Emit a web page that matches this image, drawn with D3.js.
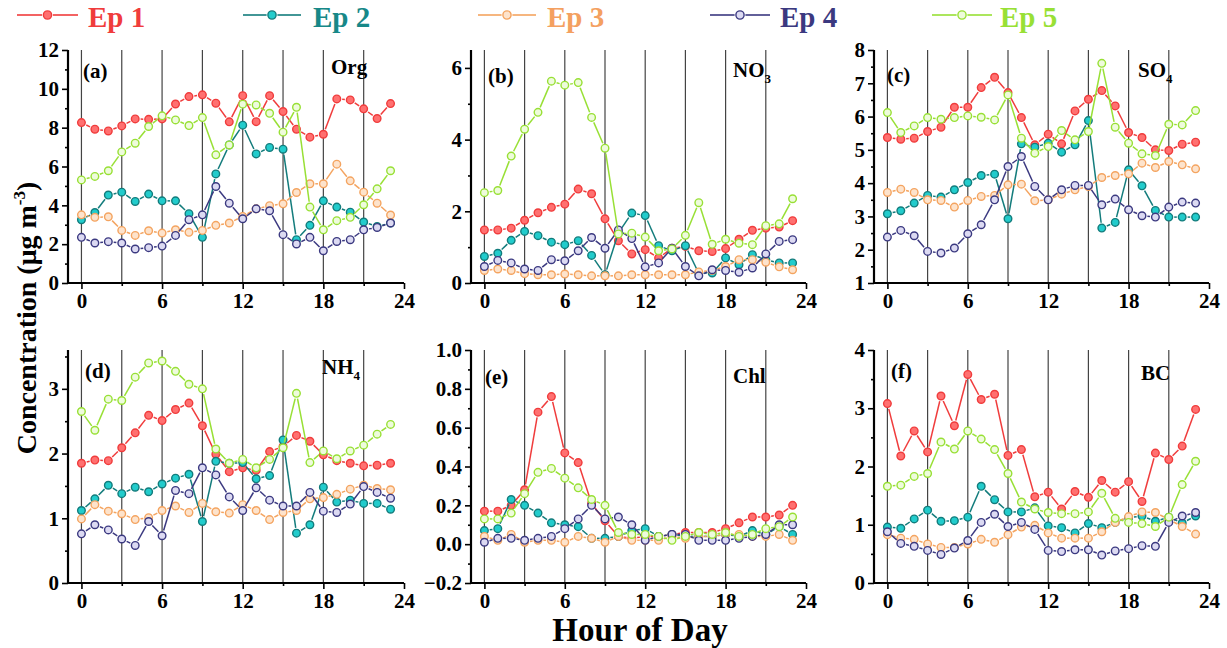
<!DOCTYPE html>
<html>
<head>
<meta charset="utf-8">
<script src="https://cdn.jsdelivr.net/npm/d3@7"></script>
<style>
  body { margin: 0; background: #fff; }
  svg text { font-family: "Liberation Serif", "Times New Roman", serif; font-weight: bold; }
</style>
</head>
<body>
<svg id="chart" width="1227" height="648"></svg>
<script>
// ---------- DATA ----------
const hours = d3.range(24);
const seriesNames = ["Ep 1", "Ep 2", "Ep 3", "Ep 4", "Ep 5"];
const xTickValues = [0, 6, 12, 18, 24];
const gridHours = [0, 3, 6, 9, 12, 15, 18, 21];

const org = [
  [8.26,7.92,7.83,8.09,8.45,8.43,8.45,9.22,9.60,9.69,9.26,8.30,9.65,8.31,9.65,8.83,7.92,7.51,7.66,9.48,9.43,8.97,8.47,9.24],
  [3.26,3.63,4.53,4.68,4.20,4.58,4.23,4.23,3.57,2.35,5.62,7.11,8.13,6.65,6.98,6.89,2.23,2.97,4.23,3.91,3.65,3.14,2.91,3.09],
  [3.51,3.38,3.41,2.71,2.45,2.69,2.57,2.74,2.61,2.71,2.97,3.09,3.43,3.82,3.98,4.08,4.66,5.11,5.11,6.12,5.26,4.68,4.11,3.50],
  [2.35,2.06,2.13,2.06,1.75,1.82,1.90,2.45,3.26,3.51,4.97,4.11,3.31,3.82,3.72,2.49,2.01,2.35,1.66,2.14,2.23,2.74,2.86,3.09],
  [5.31,5.49,5.78,6.75,7.20,8.06,8.61,8.40,8.11,8.52,6.60,7.11,9.21,9.17,8.74,7.77,9.05,3.91,2.74,3.21,3.38,4.03,4.85,5.78]
];
const no3 = [
  [1.48,1.48,1.53,1.75,1.96,2.11,2.20,2.62,2.49,1.79,1.18,0.81,0.93,0.70,0.97,1.02,0.90,0.88,0.96,1.22,1.47,1.53,1.56,1.74],
  [0.74,0.83,1.19,1.44,1.32,1.14,1.07,1.18,0.77,0.23,1.40,1.95,1.88,1.04,0.90,1.04,0.27,0.28,0.70,0.51,0.79,0.65,0.56,0.56],
  [0.35,0.39,0.35,0.26,0.23,0.23,0.25,0.23,0.20,0.20,0.20,0.23,0.23,0.23,0.23,0.23,0.31,0.35,0.46,0.65,0.65,0.58,0.45,0.37],
  [0.46,0.63,0.56,0.39,0.35,0.65,0.62,0.90,1.27,0.97,1.48,1.24,0.45,0.56,0.97,0.46,0.20,0.37,0.35,0.30,0.42,0.81,1.16,1.21],
  [2.52,2.58,3.54,4.29,4.76,5.63,5.52,5.59,4.62,3.76,1.37,1.39,1.28,0.90,0.95,1.33,2.24,1.08,1.22,1.11,1.07,1.60,1.65,2.35]
];
const so4 = [
  [5.37,5.32,5.35,5.55,5.68,6.28,6.28,6.87,7.18,6.72,5.97,5.15,5.47,5.18,6.17,6.52,6.78,6.32,5.52,5.37,5.00,4.98,5.17,5.23],
  [3.08,3.17,3.40,3.63,3.58,3.80,4.02,4.23,4.27,2.93,5.18,5.08,5.20,4.93,5.15,5.88,2.65,2.82,4.40,3.92,3.18,2.98,2.98,2.98],
  [3.72,3.82,3.72,3.50,3.48,3.28,3.48,3.60,3.63,3.95,3.97,3.47,3.50,3.67,3.80,3.90,4.17,4.23,4.28,4.60,4.47,4.65,4.55,4.43],
  [2.38,2.58,2.42,1.95,1.90,2.05,2.48,2.75,3.50,4.50,4.80,3.90,3.50,3.80,3.93,3.93,3.35,3.52,3.20,3.02,2.98,3.28,3.43,3.40],
  [6.12,5.52,5.72,5.97,5.92,5.97,6.02,5.98,5.90,6.65,5.35,4.90,5.10,5.58,5.30,5.55,7.60,5.68,5.20,4.88,4.83,5.77,5.75,6.18]
];
const nh4 = [
  [1.85,1.90,1.89,2.09,2.32,2.59,2.51,2.68,2.78,2.43,1.99,1.72,1.78,1.74,2.03,2.11,2.28,2.19,1.98,1.89,1.85,1.81,1.82,1.85],
  [1.12,1.30,1.51,1.38,1.48,1.41,1.53,1.62,1.68,0.95,1.88,1.85,1.86,1.61,1.66,2.21,0.77,0.90,1.48,1.25,1.28,1.23,1.23,1.14],
  [0.99,1.21,1.11,1.07,0.98,1.01,1.12,1.19,1.09,1.23,1.10,1.08,1.21,1.12,0.98,1.09,1.12,1.30,1.32,1.37,1.45,1.51,1.46,1.44],
  [0.76,0.90,0.82,0.68,0.58,0.95,0.73,1.43,1.38,1.78,1.67,1.33,1.12,1.47,1.28,1.19,1.19,1.40,1.11,1.09,1.22,1.49,1.40,1.31],
  [2.65,2.36,2.84,2.82,3.18,3.40,3.43,3.27,3.07,3.00,2.07,1.85,1.91,1.78,1.91,2.09,2.93,1.86,2.04,1.92,2.04,2.13,2.30,2.45]
];
const chl = [
  [0.17,0.17,0.20,0.28,0.68,0.76,0.47,0.42,0.21,0.12,0.04,0.03,0.04,0.04,0.05,0.06,0.06,0.06,0.08,0.11,0.14,0.14,0.15,0.20],
  [0.07,0.08,0.23,0.20,0.16,0.11,0.10,0.09,0.03,0.03,0.04,0.07,0.08,0.04,0.05,0.04,0.04,0.04,0.05,0.04,0.07,0.05,0.09,0.05],
  [0.04,0.02,0.05,0.01,0.02,0.02,0.01,0.04,0.03,0.01,0.04,0.02,0.02,0.02,0.04,0.03,0.04,0.04,0.05,0.05,0.04,0.04,0.05,0.02],
  [0.01,0.03,0.03,0.02,0.03,0.04,0.08,0.13,0.20,0.13,0.14,0.10,0.02,0.04,0.05,0.05,0.02,0.02,0.02,0.03,0.04,0.05,0.10,0.10],
  [0.13,0.13,0.16,0.26,0.37,0.39,0.34,0.29,0.23,0.20,0.06,0.05,0.05,0.04,0.02,0.04,0.06,0.05,0.06,0.04,0.05,0.08,0.09,0.14]
];
const bc = [
  [3.08,2.18,2.61,2.25,3.21,2.70,3.58,3.15,3.24,2.19,2.29,1.48,1.56,1.27,1.57,1.47,1.76,1.56,1.74,1.40,2.23,2.12,2.35,2.98],
  [0.96,0.94,1.10,1.25,1.06,1.07,1.13,1.66,1.43,1.22,1.22,1.29,0.98,0.95,0.86,1.02,0.95,1.04,1.12,1.15,1.06,1.13,1.03,1.15],
  [0.83,0.77,0.75,0.67,0.61,0.61,0.67,0.75,0.70,0.83,0.96,0.99,0.86,0.77,0.77,0.77,0.88,1.04,1.14,1.22,1.21,1.09,0.97,0.84],
  [0.88,0.68,0.63,0.56,0.49,0.60,0.73,1.04,1.18,0.97,1.04,0.92,0.56,0.54,0.57,0.57,0.48,0.55,0.59,0.64,0.63,1.04,1.15,1.21],
  [1.66,1.68,1.83,1.88,2.42,2.30,2.61,2.47,2.29,1.88,1.39,1.27,1.21,1.19,1.19,1.22,1.54,1.11,1.04,1.02,0.97,1.13,1.69,2.09]
];

// ---------- STYLE ----------
const lineColors   = ["#f03c3c", "#137c7c", "#f4a460", "#3b3980", "#98e035"];
const markerFills  = ["#ff7070", "#22cccc", "#fde3cc", "#dcdaf2", "#eefbdc"];
const legendColors = ["#f03c3c", "#178888", "#f4a060", "#3b3980", "#98e035"];

const panels = [
  {data: org, letter: "(a)", name: "Org", sub: "", dom: [0, 12], major: 2, minor: 1, x0: 68, x1: 404, y0: 50, y1: 283, lx: 83, ly: 78, nx: 331, ny: 74},
  {data: no3, letter: "(b)", name: "NO", sub: "3", dom: [0, 6.5], major: 2, minor: 1, x0: 471, x1: 806, y0: 50, y1: 283, lx: 488, ly: 83, nx: 733, ny: 77},
  {data: so4, letter: "(c)", name: "SO", sub: "4", dom: [1, 8], major: 1, minor: 0.5, x0: 874, x1: 1209, y0: 50, y1: 283, lx: 887, ly: 82, nx: 1138, ny: 77},
  {data: nh4, letter: "(d)", name: "NH", sub: "4", dom: [0, 3.6], major: 1, minor: 0.5, x0: 68, x1: 404, y0: 350, y1: 583, lx: 85, ly: 378, nx: 322, ny: 374},
  {data: chl, letter: "(e)", name: "Chl", sub: "", dom: [-0.2, 1.0], major: 0.2, minor: 0.1, x0: 471, x1: 806, y0: 350, y1: 583, lx: 485, ly: 384, nx: 733, ny: 383},
  {data: bc,  letter: "(f)", name: "BC", sub: "", dom: [0, 4], major: 1, minor: 0.5, x0: 874, x1: 1209, y0: 350, y1: 583, lx: 891, ly: 378, nx: 1141, ny: 380}
];

const svg = d3.select("#chart");
const R = 3.8, GAP = R + 1.6;

function drawSeries(g, pts, i) {
  // segments with a gap around each symbol
  for (let k = 0; k < pts.length - 1; k++) {
    const [ax, ay] = pts[k], [bx, by] = pts[k + 1];
    const dx = bx - ax, dy = by - ay, L = Math.hypot(dx, dy);
    if (L <= 2 * GAP) continue;
    const ux = dx / L, uy = dy / L;
    g.append("line")
      .attr("x1", ax + ux * GAP).attr("y1", ay + uy * GAP)
      .attr("x2", bx - ux * GAP).attr("y2", by - uy * GAP)
      .attr("stroke", lineColors[i]).attr("stroke-width", 1.5);
  }
  g.selectAll(null).data(pts).enter().append("circle")
    .attr("cx", d => d[0]).attr("cy", d => d[1]).attr("r", R)
    .attr("fill", markerFills[i]).attr("stroke", lineColors[i]).attr("stroke-width", 1.4);
}

panels.forEach(p => {
  const x = d3.scaleLinear().domain([-1, 24]).range([p.x0, p.x1]);
  const y = d3.scaleLinear().domain(p.dom).range([p.y1, p.y0]);
  const g = svg.append("g");

  // vertical grid lines
  g.selectAll(null).data(gridHours).enter().append("line")
    .attr("x1", d => x(d)).attr("x2", d => x(d))
    .attr("y1", p.y0).attr("y2", p.y1)
    .attr("stroke", "#444").attr("stroke-width", 1.2);

  // y axis
  const span = p.dom[1] - p.dom[0];
  const majTicks = d3.range(0, Math.floor(span / p.major + 1e-6) + 1).map(k => +(p.dom[0] + k * p.major).toFixed(3));
  const minTicks = d3.range(0, Math.floor(span / p.minor + 1e-6) + 1).map(k => +(p.dom[0] + k * p.minor).toFixed(3)).filter(v => !majTicks.some(m => Math.abs(m - v) < 1e-6));
  const fmt = p.major < 1 ? d3.format(".1f") : d3.format("d");
  const yAxis = g.append("g").attr("transform", `translate(${p.x0},0)`)
    .call(d3.axisLeft(y).tickValues(majTicks).tickFormat(fmt).tickSize(6).tickPadding(3));
  g.append("g").attr("transform", `translate(${p.x0},0)`)
    .call(d3.axisLeft(y).tickValues(minTicks).tickFormat("").tickSize(3))
    .call(s => s.select(".domain").remove());
  yAxis.select(".domain").attr("d", `M0,${p.y0}V${p.y1}`);

  // x axis
  const xAxis = g.append("g").attr("transform", `translate(0,${p.y1})`)
    .call(d3.axisBottom(x).tickValues(xTickValues).tickFormat(d3.format("d")).tickSize(6).tickPadding(4));
  g.append("g").attr("transform", `translate(0,${p.y1})`)
    .call(d3.axisBottom(x).tickValues([3, 9, 15, 21]).tickFormat("").tickSize(3))
    .call(s => s.select(".domain").remove());
  xAxis.select(".domain").attr("d", `M${p.x0},0H${p.x1}`);

  g.selectAll(".tick line").attr("stroke", "#000").attr("stroke-width", 1.6);
  g.selectAll(".domain").attr("stroke", "#000").attr("stroke-width", 2.2);
  g.selectAll(".tick text").attr("font-size", 21).attr("fill", "#000")
    .attr("font-family", "Liberation Serif, serif").attr("font-weight", "bold");

  // series
  p.data.forEach((vals, i) => {
    const pts = hours.map(h => [x(h), y(vals[h])]);
    drawSeries(g.append("g"), pts, i);
  });

  // panel labels
  g.append("text").attr("x", p.lx).attr("y", p.ly).attr("font-size", 21).text(p.letter);
  const t = g.append("text").attr("x", p.nx).attr("y", p.ny).attr("font-size", 21);
  t.append("tspan").text(p.name);
  if (p.sub) t.append("tspan").attr("font-size", 13).attr("dy", 6).text(p.sub);
});

// axis titles
svg.append("text").attr("transform", "translate(36,318) rotate(-90)")
  .attr("text-anchor", "middle").attr("font-size", 28)
  .call(t => {
    t.append("tspan").text("Concentration (μg m");
    t.append("tspan").attr("font-size", 17).attr("dy", -11).text("-3");
    t.append("tspan").attr("dy", 11).text(")");
  });
svg.append("text").attr("x", 640).attr("y", 641).attr("text-anchor", "middle")
  .attr("font-size", 33).text("Hour of Day");

// legend
const legendLineX = [[17, 78], [243, 301], [478, 536], [710, 770], [932, 992]];
const legendTextX = [88, 313, 547, 780, 1000];
seriesNames.forEach((name, i) => {
  const lg = svg.append("g");
  const [a, b] = legendLineX[i], c = (a + b) / 2, ly = 15;
  lg.append("line").attr("x1", a).attr("x2", c - GAP).attr("y1", ly).attr("y2", ly)
    .attr("stroke", lineColors[i]).attr("stroke-width", 1.6);
  lg.append("line").attr("x1", c + GAP).attr("x2", b).attr("y1", ly).attr("y2", ly)
    .attr("stroke", lineColors[i]).attr("stroke-width", 1.6);
  lg.append("circle").attr("cx", c).attr("cy", ly).attr("r", R + 0.3)
    .attr("fill", markerFills[i]).attr("stroke", lineColors[i]).attr("stroke-width", 1.4);
  lg.append("text").attr("x", legendTextX[i]).attr("y", 27).attr("font-size", 29)
    .attr("fill", legendColors[i]).text(name);
});
</script>
</body>
</html>
